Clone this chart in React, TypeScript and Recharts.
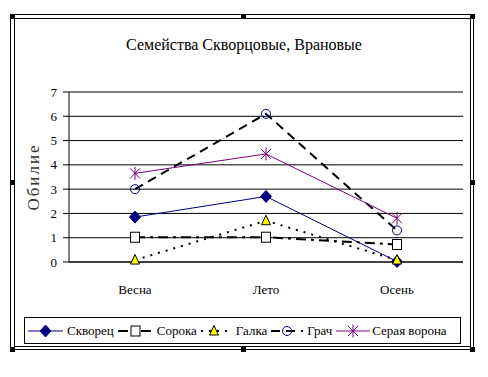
import React from 'react';
import { LineChart, Line, XAxis, YAxis, CartesianGrid } from 'recharts';

const categories = ['Весна', 'Лето', 'Осень'];
const skvorets = [1.85, 2.7, 0.02];
const soroka = [1.02, 1.02, 0.72];
const galka = [0.08, 1.7, 0.08];
const grach = [3.0, 6.1, 1.3];
const serayaVorona = [3.65, 4.45, 1.8];
const yTicks = [0, 1, 2, 3, 4, 5, 6, 7];
const title = 'Семейства Скворцовые, Врановые';
const yLabel = 'Обилие';

const data = categories.map((c, i) => ({
  cat: c,
  skvorets: skvorets[i],
  soroka: soroka[i],
  galka: galka[i],
  grach: grach[i],
  seraya: serayaVorona[i],
}));

const FONT = 'Liberation Serif, Times New Roman, serif';

type P = { cx?: number; cy?: number };

const DiamondMark = ({ cx, cy }: P) =>
  cx == null || cy == null ? null : (
    <path d={`M${cx},${cy - 6}L${cx + 5.5},${cy}L${cx},${cy + 6}L${cx - 5.5},${cy}Z`} fill="#000080" stroke="#000080" strokeWidth={1} />
  );
const SquareMark = ({ cx, cy }: P) =>
  cx == null || cy == null ? null : (
    <rect x={cx - 4.5} y={cy - 5} width={9} height={10} fill="#fff" stroke="#000" strokeWidth={1} />
  );
const TriangleMark = ({ cx, cy }: P) =>
  cx == null || cy == null ? null : (
    <path d={`M${cx},${cy - 5.5}L${cx + 4.5},${cy + 4}L${cx - 4.5},${cy + 4}Z`} fill="#ffff00" stroke="#000" strokeWidth={1} />
  );
const CircleMark = ({ cx, cy }: P) =>
  cx == null || cy == null ? null : (
    <circle cx={cx} cy={cy} r={4.5} fill="none" stroke="#000080" strokeWidth={1} />
  );
const StarMark = ({ cx, cy }: P) =>
  cx == null || cy == null ? null : (
    <path
      d={`M${cx - 5},${cy - 5}L${cx + 5},${cy + 5}M${cx + 5},${cy - 5}L${cx - 5},${cy + 5}M${cx},${cy - 6.5}L${cx},${cy + 6.5}`}
      stroke="#800080"
      strokeWidth={1}
      fill="none"
    />
  );

const series = [
  { key: 'skvorets', name: 'Скворец', color: '#000080', width: 1, dash: undefined as string | undefined, Mark: DiamondMark, sym: 35, gap: 4 },
  { key: 'soroka', name: 'Сорока', color: '#000', width: 2, dash: '10 5 3 5', Mark: SquareMark, sym: 35, gap: 4 },
  { key: 'galka', name: 'Галка', color: '#000', width: 2, dash: '2 6', Mark: TriangleMark, sym: 26, gap: 9 },
  { key: 'grach', name: 'Грач', color: '#000', width: 2, dash: '9 6', Mark: CircleMark, sym: 32, gap: 4 },
  { key: 'seraya', name: 'Серая ворона', color: '#800080', width: 1, dash: undefined as string | undefined, Mark: StarMark, sym: 34, gap: 2 },
];

const Handle = ({ x, y }: { x: number; y: number }) => (
  <div style={{ position: 'absolute', left: x, top: y, width: 5, height: 5, background: '#000' }} />
);

export default function App() {
  return (
    <div style={{ position: 'absolute', left: 0, top: 0, width: 488, height: 377, background: '#fff', fontFamily: FONT }}>
      <div style={{ position: 'absolute', left: 10, top: 14, width: 464, height: 336, border: '1px solid #000', boxSizing: 'border-box' }} />
      <div style={{ position: 'absolute', left: 14, top: 18, width: 457, height: 329, border: '1px solid #000', boxSizing: 'border-box' }} />
      <Handle x={10} y={14} />
      <Handle x={241} y={14} />
      <Handle x={470} y={14} />
      <Handle x={10} y={180} />
      <Handle x={470} y={180} />
      <Handle x={10} y={347} />
      <Handle x={241} y={347} />
      <Handle x={470} y={347} />
      <div style={{ position: 'absolute', left: 0, top: 36, width: 488, textAlign: 'center', fontSize: 16, color: '#000' }}>{title}</div>
      <div
        style={{
          position: 'absolute',
          left: 34 - 40,
          top: 177 - 10,
          width: 80,
          height: 20,
          lineHeight: '20px',
          textAlign: 'center',
          fontSize: 17,
          letterSpacing: 2,
          color: '#333',
          transform: 'rotate(-90deg)',
        }}
      >
        {yLabel}
      </div>
      <div style={{ position: 'absolute', left: 0, top: 0 }}>
        <LineChart width={488} height={377} data={data} margin={{ top: 92, right: 25, left: 0, bottom: 75 }}>
          <CartesianGrid vertical={false} stroke="#000" strokeWidth={1} />
          <XAxis
            dataKey="cat"
            height={40}
            padding={{ left: 66, right: 66 }}
            tickLine={false}
            tickSize={0}
            tickMargin={23}
            axisLine={{ stroke: '#000' }}
            tick={{ fill: '#000', fontSize: 13, fontFamily: FONT }}
          />
          <XAxis xAxisId="top" orientation="top" dataKey="cat" height={0} tick={false} tickLine={false} axisLine={{ stroke: '#808080' }} />
          <YAxis
            width={69}
            domain={[0, 7]}
            ticks={yTicks}
            interval={0}
            tickSize={6}
            tickMargin={6}
            tickLine={{ stroke: '#000' }}
            axisLine={{ stroke: '#000' }}
            tick={{ fill: '#000', fontSize: 13, fontFamily: FONT }}
          />
          <YAxis yAxisId="r" orientation="right" width={0} domain={[0, 7]} tick={false} tickLine={false} axisLine={{ stroke: '#808080' }} />
          {series.map((s) => (
            <Line
              key={s.key}
              dataKey={s.key}
              name={s.name}
              stroke={s.color}
              strokeWidth={s.width}
              strokeDasharray={s.dash}
              dot={(p: any) => <s.Mark key={`${s.key}-${p.index}`} cx={p.cx} cy={p.cy} />}
              activeDot={false}
              isAnimationActive={false}
            />
          ))}
        </LineChart>
      </div>
      <div
        style={{
          position: 'absolute',
          left: 24,
          top: 317,
          width: 437,
          height: 27,
          border: '1px solid #000',
          boxSizing: 'border-box',
          display: 'flex',
          alignItems: 'center',
          paddingLeft: 3,
          fontSize: 13,
          color: '#000',
          whiteSpace: 'nowrap',
        }}
      >
        {series.map((s) => (
          <div key={s.key} style={{ display: 'flex', alignItems: 'center', marginRight: 4 }}>
            <svg width={s.sym} height={14} style={{ marginRight: s.gap }}>
              <line x1={0} y1={7} x2={s.sym} y2={7} stroke={s.color} strokeWidth={s.width} strokeDasharray={s.dash} />
              <s.Mark cx={s.sym / 2} cy={7} />
            </svg>
            <span>{s.name}</span>
          </div>
        ))}
      </div>
    </div>
  );
}
